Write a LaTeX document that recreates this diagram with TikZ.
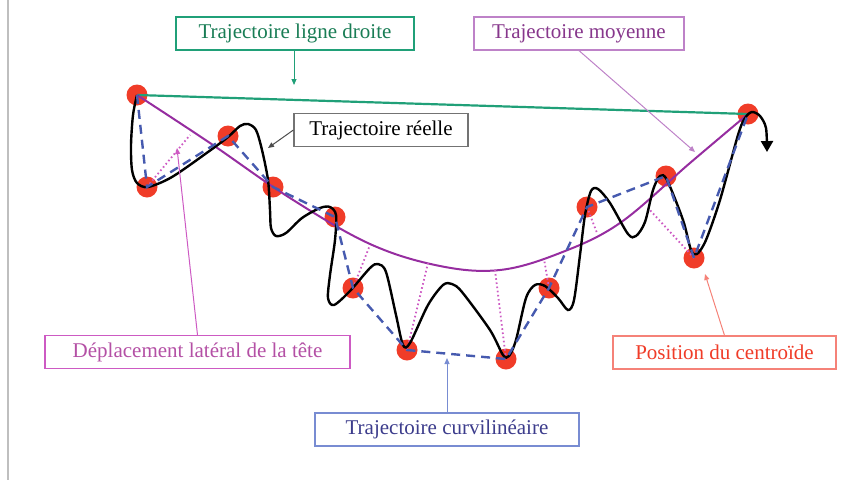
\documentclass[tikz,border=0pt]{standalone}
\usepackage{fontspec}
\setmainfont{Liberation Serif}
\usetikzlibrary{arrows.meta, calc}
\definecolor{cgreen}{RGB}{32,160,120}
\definecolor{cgreentx}{RGB}{25,125,85}
\definecolor{cpurple}{RGB}{150,45,160}
\definecolor{cpurpletx}{RGB}{135,55,140}
\definecolor{cpurplebd}{RGB}{190,130,200}
\definecolor{cpink}{RGB}{205,90,195}
\definecolor{cpinktx}{RGB}{180,80,165}
\definecolor{cred}{RGB}{240,60,40}
\definecolor{credbd}{RGB}{245,130,120}
\definecolor{cblue}{RGB}{70,90,175}
\definecolor{cbluebd}{RGB}{120,140,210}
\definecolor{cbluetx}{RGB}{60,60,140}
\tikzset{
  lbl/.style ={rectangle, draw, line width=1.2pt, align=center, inner sep=2pt, minimum height=33pt, font=\fontsize{21}{24}\selectfont, fill=white},
  pt/.style  ={circle, fill=cred, minimum size=21pt, inner sep=0pt},
  ptr/.style ={-{Triangle[length=6pt,width=5pt]}, line width=1pt},
  dsh/.style ={cblue, line width=2.4pt, dash pattern=on 9pt off 6pt},
  lat/.style ={cpink, line width=1.8pt, dash pattern=on 1.6pt off 2.6pt},
}
\begin{document}
\begin{tikzpicture}[x=1pt, y=-1pt]
  \useasboundingbox (0,0) rectangle (863,480);
  \draw[black!25, line width=2pt] (8,0) -- (8,480);
  \foreach \x/\y [count=\i] in {137/95, 147/187, 228/136, 273/187, 335/217, 353/288, 407/350,
                                506/359, 549/288, 587/207, 666/176, 694/258, 748/114}
    \node[pt] (p\i) at (\x,\y) {};
  \node[lbl, draw=cgreen, text=cgreentx, minimum width=238pt] (lgd) at (295,33.5) {Trajectoire ligne droite};
  \node[lbl, draw=cpurplebd, text=cpurpletx, minimum width=210pt] (tmoy) at (579,33.5) {Trajectoire moyenne};
  \node[lbl, draw=black!55, text=black, minimum width=174pt] (treel) at (381,130) {Trajectoire réelle};
  \node[lbl, draw=cpink, text=cpinktx, minimum width=305pt] (dlat) at (197.5,352) {Déplacement latéral de la tête};
  \node[lbl, draw=credbd, text=cred, minimum width=223pt] (pcen) at (724.5,352.5) {Position du centroïde};
  \node[lbl, draw=cbluebd, text=cbluetx, minimum width=264pt] (tcur) at (447,429.5) {Trajectoire curvilinéaire};
  \draw[cgreen, line width=2.2pt] (p1.center) -- (p13.center);
  \draw[cpurple, line width=2pt] plot[smooth, tension=0.6] coordinates {(137,95) (210,143) (290,198) (370,244)
    (440,266) (500,270) (560,253) (620,223) (690,163) (748,114)};
  \foreach \i/\x/\y in {2/190/135, 6/370/245, 7/428/263, 8/495/270, 9/544/259, 10/597/233, 12/648/208} {
    \coordinate (m\i) at (\x,\y);
    \draw[lat] (p\i.center) -- (m\i);
  }
  \draw[line width=2.4pt, -{Triangle[length=11pt,width=12pt]}] plot[smooth, tension=0.5] coordinates {
    (137,95) (133,115) (131,145) (132,170) (137,183) (148,187) (172,177) (208,152) (228,137) (240,126)
    (248,124) (256,130) (262,150) (268,180) (270,210) (271,228) (276,236) (286,233) (302,218) (320,208)
    (330,207) (336,215) (335,240) (330,275) (328,298) (334,305) (350,291) (370,268) (378,264) (386,272)
    (396,315) (403,345) (410,343) (428,305) (443,285) (452,284) (462,292) (490,330) (503,355) (509,356)
    (516,340) (526,298) (535,285) (545,286) (558,298) (568,310) (574,300) (580,255) (585,215) (591,191)
    (598,189) (610,203) (628,234) (636,236) (645,222) (653,190) (660,176) (667,180) (683,220) (691,250)
    (697,254) (706,240) (720,200) (738,135) (745,118) (752,112) (760,116) (766,128) (767,152)};
  \draw[dsh] (p1.center) \foreach \i in {2,...,13} { -- (p\i.center) };
  \coordinate (ag) at (294,85);
  \coordinate (am) at (695,152);
  \coordinate (ar) at (268,148);
  \coordinate (ad) at (177,148);
  \coordinate (ap) at (705,274);
  \coordinate (ac) at (447,358);
  \draw[ptr, cgreen] (lgd.south -| ag) -- (ag);
  \draw[ptr, cpurplebd] (tmoy.south) -- (am);
  \draw[ptr, black!70] (treel.west) -- (ar);
  \draw[ptr, cpink] (dlat.north) -- (ad);
  \draw[ptr, credbd] (pcen.north) -- (ap);
  \draw[ptr, cbluebd] (tcur.north) -- (ac);
\end{tikzpicture}
\end{document}
